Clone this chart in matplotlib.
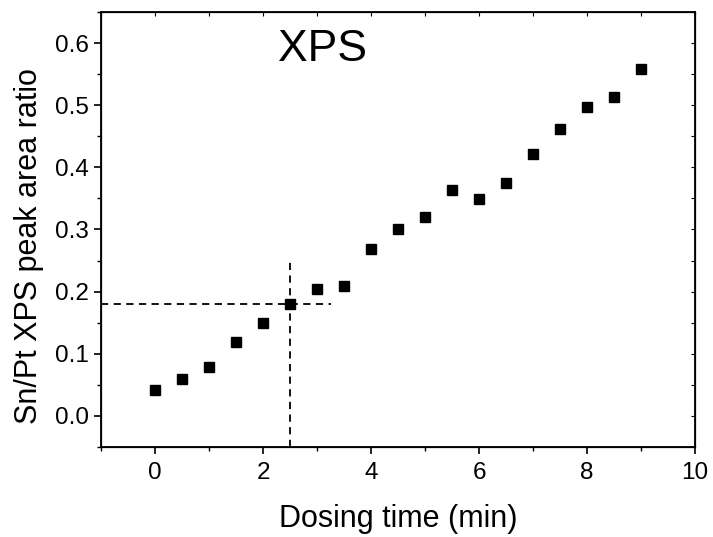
import numpy as np
import matplotlib
matplotlib.use("Agg")
import matplotlib.pyplot as plt
from matplotlib.ticker import MultipleLocator

plt.rcParams["font.family"] = ["Liberation Sans", "DejaVu Sans"]

# =========================
# Data
# =========================
dosing_time = [0, 0.5, 1, 1.5, 2, 2.5, 3, 3.5, 4, 4.5, 5, 5.5, 6, 6.5, 7, 7.5, 8, 8.5, 9]
sn_pt_ratio = [0.042, 0.059, 0.078, 0.119, 0.150, 0.180, 0.204, 0.209, 0.268, 0.300,
               0.320, 0.363, 0.349, 0.374, 0.421, 0.461, 0.497, 0.513, 0.558]

guide_x = 2.5
guide_y = 0.18
guide_x_end = 3.25
guide_y_end = 0.25

XLIM = (-1, 10)
YLIM = (-0.05, 0.65)

# =========================
# Plot
# =========================
fig = plt.figure(figsize=(7.13, 5.37), dpi=100)
ax = fig.add_axes([0.1417, 0.1676, 0.8331, 0.8101])

ax.plot(dosing_time, sn_pt_ratio, "s", color="black", markersize=7.2, linestyle="none")

ax.plot([XLIM[0], guide_x_end], [guide_y, guide_y], "--", color="black", lw=1.3, dashes=(4, 3))
ax.plot([guide_x, guide_x], [YLIM[0], guide_y_end], "--", color="black", lw=1.3, dashes=(4, 3))

ax.text(3.1, 0.589, "XPS", fontsize=32, ha="center", va="center")

ax.set_xlim(*XLIM)
ax.set_ylim(*YLIM)
ax.xaxis.set_major_locator(MultipleLocator(2))
ax.xaxis.set_minor_locator(MultipleLocator(1))
ax.yaxis.set_major_locator(MultipleLocator(0.1))
ax.yaxis.set_minor_locator(MultipleLocator(0.05))
ax.yaxis.set_major_formatter(matplotlib.ticker.FormatStrFormatter("%.1f"))

ax.tick_params(which="major", direction="out", length=5, width=1.2, labelsize=17.5)
ax.tick_params(which="minor", direction="out", length=3, width=1.0)
ax.tick_params(axis="x", which="major", pad=6)
for s in ax.spines.values():
    s.set_linewidth(1.3)

# inward ticks on top and right
ax_top = ax.twiny()
ax_top.set_xlim(*XLIM)
ax_top.xaxis.set_major_locator(MultipleLocator(1))
ax_top.tick_params(direction="in", length=3, width=0.8, labeltop=False)
ax_right = ax.twinx()
ax_right.set_ylim(*YLIM)
ax_right.yaxis.set_major_locator(MultipleLocator(0.05))
ax_right.tick_params(direction="in", length=3, width=0.8, labelright=False)

ax.set_xlabel("Dosing time (min)", fontsize=22, labelpad=14)
ax.set_ylabel("Sn/Pt XPS peak area ratio", fontsize=22, labelpad=8)
ax.yaxis.label.set_y(0.462)

fig.savefig("out.png", dpi=100)
